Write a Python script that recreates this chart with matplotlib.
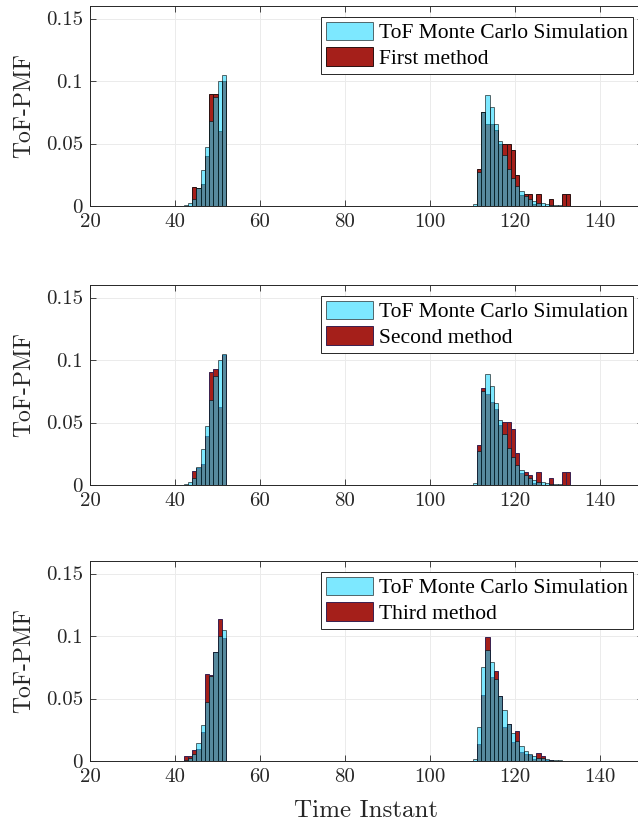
import numpy as np
from matplotlib import pyplot as plt
from matplotlib.patches import Patch

plt.rcParams['font.family'] = 'cmr10'
plt.rcParams['axes.formatter.use_mathtext'] = True

# histogram bins (left edges, width 1)
left_bins = np.arange(41, 52)
right_bins = np.arange(110, 140)

mc_left = [0.0003, 0.0008, 0.0022, 0.006, 0.0147, 0.0287, 0.0472, 0.0678, 0.0870, 0.1002, 0.1047]
mc_right = [0.002, 0.0275, 0.0755, 0.0888, 0.0792, 0.0655, 0.0520, 0.0405, 0.0295, 0.0225,
            0.0160, 0.0122, 0.0078, 0.0060, 0.0043, 0.0028, 0.0022, 0.0016, 0.0011, 0.0008,
            0.0006, 0.0004, 0.0003, 0.0003, 0.0002, 0.0002, 0.0001, 0.0001, 0.0001, 0.0001]

m1_left = [0, 0, 0, 0.0152, 0.0145, 0.018, 0.040, 0.090, 0.090, 0.060, 0.100]
m1_right = [0, 0.030, 0.075, 0.066, 0.066, 0.061, 0.0496, 0.050, 0.050, 0.045,
            0.025, 0.0088, 0.010, 0.010, 0.002, 0.010, 0, 0, 0.0053, 0,
            0, 0.010, 0.010, 0, 0, 0, 0, 0, 0, 0]

m2_left = [0, 0, 0, 0.011, 0.014, 0.017, 0.039, 0.0907, 0.0925, 0.0627, 0.104]
m2_right = [0, 0.0317, 0.0773, 0.073, 0.0667, 0.061, 0.048, 0.0507, 0.0507, 0.045,
            0.0253, 0.0093, 0.0104, 0.008, 0.002, 0.0104, 0, 0, 0.0059, 0,
            0, 0.0104, 0.0104, 0, 0, 0, 0, 0, 0, 0]

m3_left = [0, 0.004, 0.004, 0.0088, 0.0093, 0.0235, 0.070, 0.0688, 0.0875, 0.1136, 0.0987]
m3_right = [0, 0.014, 0.0528, 0.099, 0.0675, 0.0723, 0.052, 0.0275, 0.030, 0.0155,
            0.0243, 0.0075, 0.0056, 0.0048, 0.002, 0.0061, 0.004, 0.0006, 0.0005, 0.0004,
            0.0003, 0.0002, 0.0001, 0, 0, 0, 0, 0, 0, 0]

methods = ['First method', 'Second method', 'Third method']
method_left = [m1_left, m2_left, m3_left]
method_right = [m1_right, m2_right, m3_right]

xticks = [20, 40, 60, 80, 100, 120, 140]
yticks = [0, 0.05, 0.1, 0.15]
ytick_labels = ['0', '0.05', '0.1', '0.15']

red = '#a51f1a'
cyan = (0.12, 0.85, 1.0)
red_edges = ['#2a1010', '#3a2050', '#3a2050']

bins = np.concatenate([left_bins, right_bins])
mc = np.concatenate([mc_left, mc_right])

fig = plt.figure(figsize=(6.38, 8.27), dpi=100)
bottoms = [0.7509, 0.4135, 0.0798]

for i in range(3):
    ax = fig.add_axes([90/638, bottoms[i], 552.5/638, 200/827])
    meth = np.concatenate([method_left[i], method_right[i]])
    ax.bar(bins, meth, width=1, align='edge', color=red, edgecolor=red_edges[i], linewidth=0.7, zorder=2)
    ax.bar(bins, mc, width=1, align='edge', color=cyan, alpha=0.58, edgecolor='k', linewidth=0.7, zorder=3)
    ax.set_xlim(20, 150)
    ax.set_ylim(0, 0.16)
    ax.set_xticks(xticks)
    ax.set_xticklabels([str(t) for t in xticks])
    ax.set_yticks(yticks)
    ax.set_yticklabels(ytick_labels)
    ax.tick_params(direction='in', length=4, width=0.6, labelsize=15, colors='#262626',
                   top=True, right=True, pad=5)
    ax.grid(True, color='#ebebeb', linewidth=0.7, zorder=0)
    ax.set_axisbelow(True)
    for s in ax.spines.values():
        s.set_color('#262626')
        s.set_linewidth(0.7)
    ax.set_ylabel('ToF-PMF', fontsize=17, color='#262626', labelpad=8)
    handles = [Patch(facecolor=cyan, alpha=0.58, edgecolor='k', linewidth=0.7),
               Patch(facecolor=red, edgecolor=red_edges[i], linewidth=0.7)]
    leg = ax.legend(handles, ['ToF Monte Carlo Simulation', methods[i]], loc='upper right',
                    bbox_to_anchor=(0.983, 0.945), borderaxespad=0,
                    prop={'family': 'Liberation Serif', 'size': 15.5},
                    handlelength=2.2, handleheight=0.95, handletextpad=0.3,
                    borderpad=0.22, labelspacing=0.18, fancybox=False, framealpha=1)
    leg.get_frame().set_edgecolor('#262626')
    leg.get_frame().set_linewidth(0.7)
    if i == 2:
        ax.set_xlabel('Time Instant', fontsize=18, color='#262626', labelpad=10)

fig.savefig('out.png', dpi=100)
